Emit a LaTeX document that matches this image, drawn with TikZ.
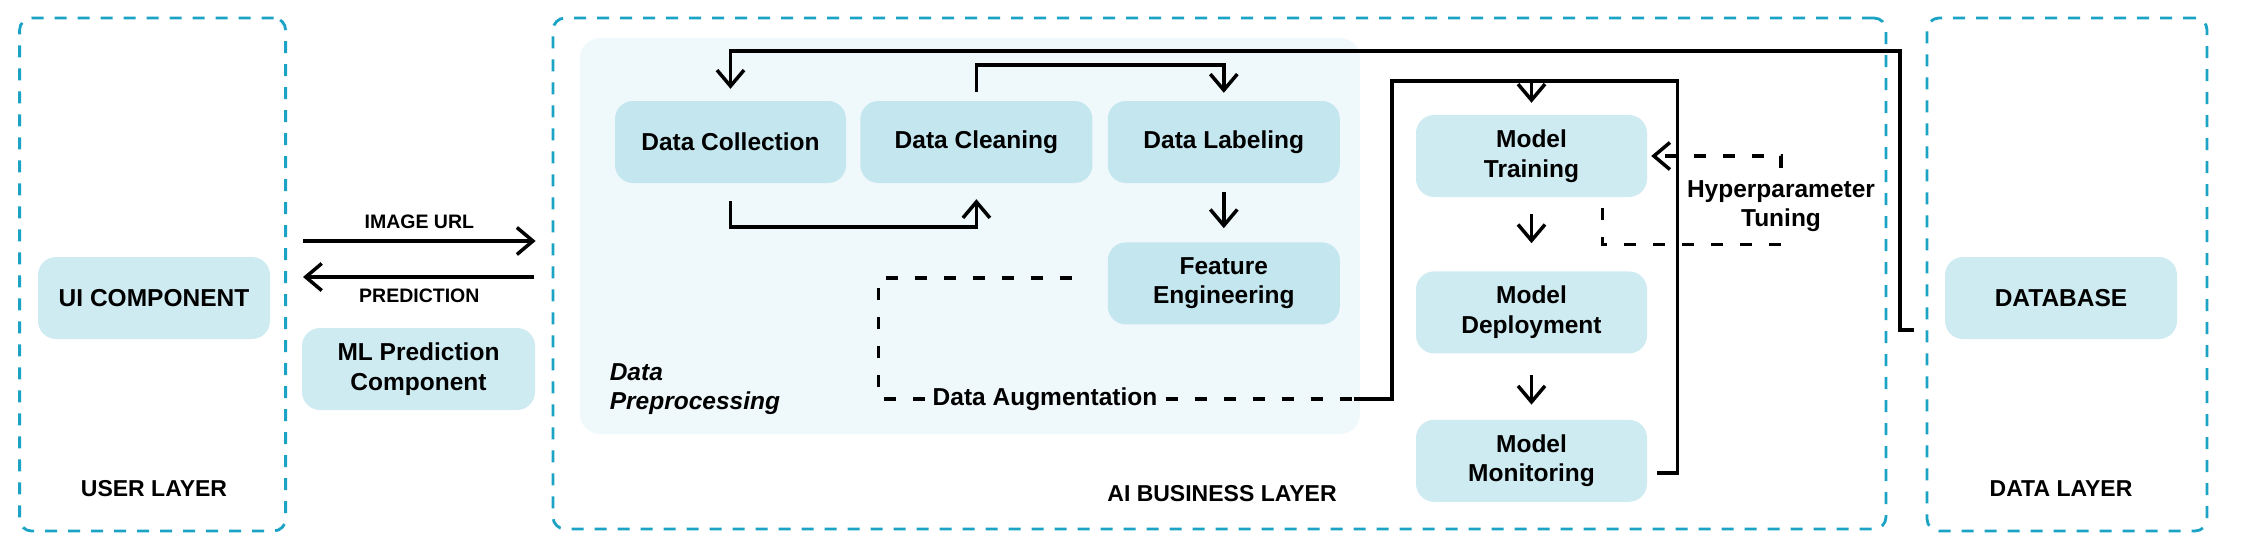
\documentclass[tikz,border=0pt]{standalone}
\usepackage{fontspec}
\setmainfont{Liberation Sans}
\usetikzlibrary{arrows.meta, positioning}
\definecolor{layerblue}{HTML}{1AA3C5}
\definecolor{boxfill}{HTML}{CFEBF2}
\definecolor{innerfill}{HTML}{C4E6EF}
\definecolor{prepfill}{HTML}{EFF8FB}
\newcommand{\nodefont}{\fontsize{24.5}{29.5}\selectfont\bfseries}

\begin{document}
\begin{tikzpicture}[x=1pt, y=-1pt, node distance=14pt]

	% --- STYLES ---
	\tikzstyle{layerbox} = [rectangle, rounded corners=12pt, draw=layerblue, line width=2.8pt, dash pattern=on 12pt off 11pt]
	\tikzstyle{component} = [rectangle, rounded corners=18pt, minimum width=232pt, minimum height=82pt, align=center, fill=boxfill, font=\nodefont, inner sep=0pt]
	\tikzstyle{prepstep} = [component, fill=innerfill]
	\tikzstyle{layerlabel} = [font=\fontsize{23}{28}\selectfont\bfseries]
	\tikzstyle{flowlabel} = [font=\fontsize{19.5}{23}\selectfont\bfseries]
	\tikzstyle{flowarrow} = [line width=3.5pt, -{Straight Barb[length=16pt, width=27pt]}, shorten >=12pt, shorten <=10pt]
	\tikzstyle{wire} = [line width=3.5pt]
	\tikzstyle{dashline} = [line width=3.5pt, dash pattern=on 12pt off 17pt]

	\useasboundingbox (0,0) rectangle (2245,549);

	% --- LAYERS ---
	\node[layerbox, minimum width=266pt, minimum height=513pt] (userlayer) at (152.6,274.5) {};
	\node[layerbox, minimum width=1333pt, minimum height=511pt] (ailayer) at (1219.5,273.5) {};
	\node[layerbox, minimum width=280pt, minimum height=513pt] (datalayer) at (2067,274.5) {};

	% preprocessing area
	\node[fill=prepfill, rounded corners=20pt, minimum width=780pt, minimum height=396pt] (prepregion) at (970,236) {};

	% --- NODES ---

	% 1. User layer
	\node[component] (uicomp) at (154,298) {UI COMPONENT};
	\node[component, minimum width=233pt] (mlcomp) at (418.5,369) {ML Prediction\\Component};
	\node[layerlabel] (userlabel) at (154,489) {USER LAYER};

	% 2. Data preprocessing
	\node[prepstep, minimum width=231pt] (collection) at (730.5,142) {Data Collection};
	\node[prepstep, right=14pt of collection] (cleaning) {Data Cleaning};
	\node[prepstep, right=15pt of cleaning] (labeling) {Data Labeling};
	\node[prepstep, below=59pt of labeling] (feature) {Feature\\Engineering};
	\node[anchor=west, align=left, inner sep=0pt, font=\nodefont\itshape] (preplabel) at (609.6,389) {Data\\Preprocessing};
	\node[font=\nodefont, inner sep=8pt] (aug) at (1045,399) {Data Augmentation};

	% 3. Model pipeline
	\node[component, minimum width=231pt] (training) at (1531.5,156) {Model\\Training};
	\node[component, minimum width=231pt, below=74pt of training] (deployment) {Model\\Deployment};
	\node[component, minimum width=231pt, below=66pt of deployment] (monitoring) {Model\\Monitoring};
	\node[font=\nodefont, align=center, inner xsep=0pt, inner ysep=12.5pt] (hyper) at (1781,206) {Hyperparameter\\Tuning};
	\node[layerlabel] (ailabel) at (1222,494) {AI BUSINESS LAYER};

	% 4. Data layer
	\node[component] (database) at (2061,298) {DATABASE};
	\node[layerlabel] (datalabel) at (2061,489) {DATA LAYER};

	% --- ARROWS ---
	\coordinate (urlrow) at (0,241);
	\coordinate (predrow) at (0,277);
	\draw[flowarrow, shorten <=16pt, shorten >=16pt] (userlayer.east |- urlrow) -- node[flowlabel, above=7pt] {IMAGE URL} (ailayer.west |- urlrow);
	\draw[flowarrow, shorten <=18pt, shorten >=16pt] (ailayer.west |- predrow) -- node[flowlabel, below=7pt] {PREDICTION} (userlayer.east |- predrow);

	% preprocessing chain
	\draw[flowarrow, shorten <=18pt, shorten >=16pt] (collection.south) -- ++(0,44) -| (cleaning.south);
	\draw[flowarrow, shorten <=9pt, shorten >=8pt] (cleaning.north) -- ++(0,-36) -| (labeling.north);
	\draw[flowarrow, shorten <=9pt, shorten >=14pt] (labeling) -- (feature);

	% database back to collection
	\coordinate (dbturn) at (1900,51);
	\draw[flowarrow, shorten <=31pt] ([yshift=-32pt]database.west) -| (dbturn) -| (collection.north);

	% augmentation (dashed)
	\coordinate (augcorner) at (878.6,278);
	\coordinate (augend) at (1354,399);
	\draw[dashline, shorten >=22pt] (aug.west) -| (augcorner) -- (augcorner -| feature.west);
	\draw[dashline] (aug.east) -- (augend);

	% monitoring loop into training
	\coordinate (loopleft) at (1392,81);
	\coordinate (loopright) at (1677.5,81);
	\draw[wire, shorten >=10pt] (augend) -| (loopleft) -| (loopright) |- ([yshift=-12pt]monitoring.east);
	\draw[flowarrow, shorten <=0pt] (training.north |- loopright) -- (training);

	% model pipeline
	\draw[flowarrow, shorten <=17pt, shorten >=28pt] (training) -- (deployment);
	\draw[flowarrow, shorten <=21pt, shorten >=15pt] (deployment) -- (monitoring);

	% hyperparameter tuning (dashed)
	\draw[dashline, -{Straight Barb[length=16pt, width=27pt]}, shorten >=4pt] (hyper.north) |- (training.east);
	\draw[dashline, shorten <=11pt] ([xshift=71pt]training.south) |- (hyper.south);

\end{tikzpicture}
\end{document}
